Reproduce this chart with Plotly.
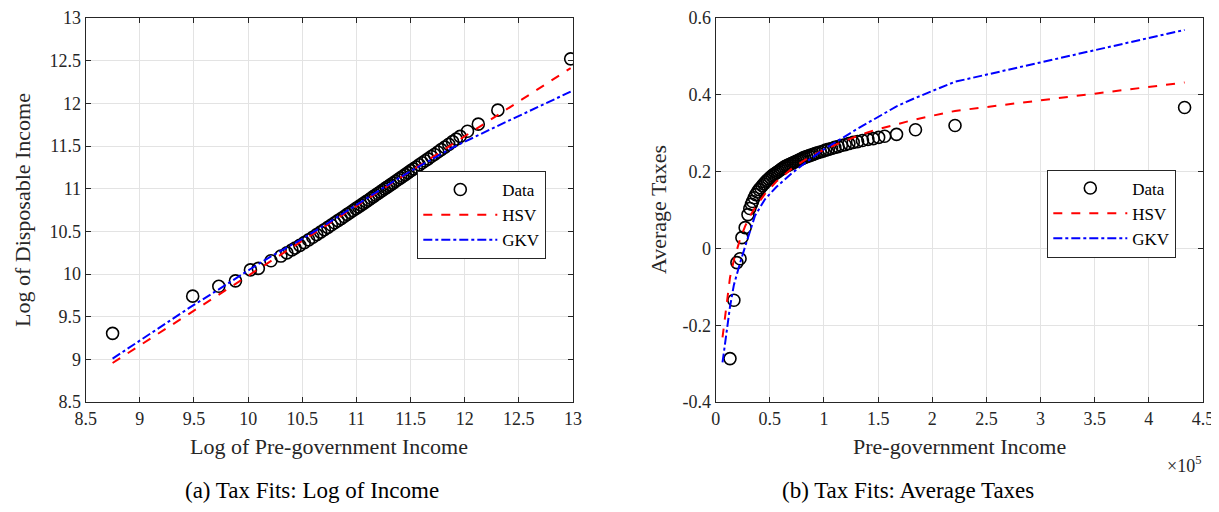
import numpy as np
import plotly.graph_objects as go

# ---- Data (pre-government income levels and average tax rates) ----
pre_income = [6300, 13200, 16800, 19600, 22500, 24200, 27200, 29800, 31500, 33000,
              34000, 35500, 37000, 38500, 40000, 41500, 43000, 44500, 46000, 47500,
              49000, 50500, 52000, 53500, 55000, 56500, 58000, 59500, 61000, 62500,
              64000, 65500, 67000, 68500, 70000, 71500, 73000, 74500, 76000, 77500,
              79000, 80500, 82000, 84000, 86000, 88000, 90000, 92000, 94000, 96500,
              99000, 101500, 104000, 107000, 110000, 113000, 116000, 119500, 123000, 127000,
              131000, 135500, 140500, 145500, 150500, 156000, 167000, 184500, 221000, 433000]
avg_tax = [-0.744, -0.287, -0.135, -0.037, -0.027, 0.028, 0.054, 0.088, 0.104, 0.115,
           0.122, 0.132, 0.140, 0.147, 0.153, 0.158, 0.163, 0.168, 0.173, 0.177,
           0.181, 0.185, 0.189, 0.192, 0.195, 0.198, 0.201, 0.204, 0.207, 0.210,
           0.213, 0.215, 0.217, 0.219, 0.221, 0.223, 0.225, 0.227, 0.229, 0.231,
           0.233, 0.235, 0.237, 0.239, 0.241, 0.243, 0.245, 0.247, 0.249, 0.251,
           0.253, 0.256, 0.258, 0.260, 0.263, 0.265, 0.268, 0.270, 0.273, 0.276,
           0.278, 0.281, 0.284, 0.286, 0.289, 0.292, 0.297, 0.309, 0.320, 0.367]

# ---- Fitted tax functions (average tax at selected incomes) ----
fit_income = [6300, 13200, 16800, 19600, 22500, 27200, 31500, 36300, 45500, 56000,
              70000, 85000, 100000, 115000, 130000, 145500, 156000, 167000, 184500, 221000, 433000]
hsv_tax = [-0.232, -0.076, -0.030, -0.002, 0.024, 0.058, 0.083, 0.106, 0.142, 0.174,
           0.207, 0.235, 0.257, 0.275, 0.292, 0.307, 0.315, 0.324, 0.336, 0.358, 0.432]
gkv_tax = [-0.297, -0.152, -0.095, -0.066, -0.038, 0.005, 0.046, 0.085, 0.128, 0.160,
           0.195, 0.228, 0.258, 0.285, 0.310, 0.335, 0.352, 0.370, 0.392, 0.434, 0.569]

# ---- Tick labels ----
left_ticks = [8.5, 9, 9.5, 10, 10.5, 11, 11.5, 12, 12.5, 13]
right_xticks = [0, 50000, 100000, 150000, 200000, 250000, 300000, 350000, 400000, 450000]
right_xtext = ["0", "0.5", "1", "1.5", "2", "2.5", "3", "3.5", "4", "4.5"]
right_yticks = [-0.4, -0.2, 0, 0.2, 0.4, 0.6]
right_ytext = ["-0.4", "-0.2", "0", "0.2", "0.4", "0.6"]

inc = np.array(pre_income, dtype=float)
tax = np.array(avg_tax)
finc = np.array(fit_income, dtype=float)
log_pre = np.log(inc)
log_disp = np.log(inc * (1 - tax))
flog_pre = np.log(finc)
hsv_log = np.log(finc * (1 - np.array(hsv_tax)))
gkv_log = np.log(finc * (1 - np.array(gkv_tax)))

# The page places the figure 8px in from the top-left corner (body margin).
OFF = 8
W, H = 1219 - OFF, 512 - OFF
FONT = "Liberation Serif"
AX = "#262626"

def px(x):
    return (x - OFF) / W

def py(y):
    return 1 - (y - OFF) / H

fig = go.Figure()
circ = dict(symbol="circle-open", size=12, color="black", line=dict(width=1.6, color="black"))

fig.add_trace(go.Scatter(x=log_pre, y=log_disp, mode="markers", marker=circ, name="Data",
                         xaxis="x", yaxis="y", legend="legend"))
fig.add_trace(go.Scatter(x=flog_pre, y=hsv_log, mode="lines", name="HSV",
                         line=dict(color="red", width=2, dash="dash"),
                         xaxis="x", yaxis="y", legend="legend"))
fig.add_trace(go.Scatter(x=flog_pre, y=gkv_log, mode="lines", name="GKV",
                         line=dict(color="blue", width=2, dash="dashdot"),
                         xaxis="x", yaxis="y", legend="legend"))

fig.add_trace(go.Scatter(x=inc, y=tax, mode="markers", marker=circ, name="Data",
                         xaxis="x2", yaxis="y2", legend="legend2"))
fig.add_trace(go.Scatter(x=finc, y=hsv_tax, mode="lines", name="HSV",
                         line=dict(color="red", width=2, dash="dash"),
                         xaxis="x2", yaxis="y2", legend="legend2"))
fig.add_trace(go.Scatter(x=finc, y=gkv_tax, mode="lines", name="GKV",
                         line=dict(color="blue", width=2, dash="dashdot"),
                         xaxis="x2", yaxis="y2", legend="legend2"))

axis_common = dict(showline=True, linecolor=AX, linewidth=1, mirror="ticks",
                   ticks="inside", ticklen=5, tickcolor=AX, tickwidth=1,
                   showgrid=True, gridcolor="#e3e3e3", gridwidth=1, zeroline=False,
                   automargin=False,
                   tickfont=dict(family=FONT, size=18, color=AX))

ydom = [py(402), py(18)]
legend_common = dict(xanchor="left", yanchor="top", bordercolor=AX, borderwidth=1,
                     bgcolor="white", font=dict(family=FONT, size=17, color="black"),
                     itemwidth=74, tracegroupgap=0)
fig.update_layout(
    width=W, height=H,
    margin=dict(l=0, r=0, t=0, b=0, autoexpand=False),
    paper_bgcolor="white", plot_bgcolor="white",
    font=dict(family=FONT, color=AX),
    xaxis=dict(domain=[px(85.7), px(573)], range=[8.5, 13], tickvals=left_ticks,
               anchor="y", **axis_common),
    yaxis=dict(domain=ydom, range=[8.5, 13], tickvals=left_ticks, anchor="x", **axis_common),
    xaxis2=dict(domain=[px(715.7), px(1203)], range=[0, 450000], tickvals=right_xticks,
                ticktext=right_xtext, anchor="y2", **axis_common),
    yaxis2=dict(domain=ydom, range=[-0.4, 0.6], tickvals=right_yticks, ticktext=right_ytext,
                anchor="x2", **axis_common),
    legend=dict(x=px(417.3), y=py(171), **legend_common),
    legend2=dict(x=px(1047.3), y=py(169.5), **legend_common),
)

ann = [
    dict(text="Log of Pre-government Income", x=px(329), y=py(446), size=22, angle=0),
    dict(text="Log of Disposable Income", x=px(22), y=py(210), size=22, angle=-90),
    dict(text="Pre-government Income", x=px(959), y=py(446), size=22, angle=0),
    dict(text="Average Taxes", x=px(658), y=py(210), size=22, angle=-90),
    dict(text="(a) Tax Fits: Log of Income", x=px(312), y=py(490), size=23, angle=0),
    dict(text="(b) Tax Fits: Average Taxes", x=px(908), y=py(490), size=23, angle=0),
]
for a in ann:
    fig.add_annotation(text=a["text"], x=a["x"], y=a["y"], xref="paper", yref="paper",
                       xanchor="center", yanchor="middle", showarrow=False, textangle=a["angle"],
                       font=dict(family=FONT, size=a["size"], color=AX if a["size"] < 23 else "black"))
fig.add_annotation(text="×10<sup>5</sup>", x=px(1203), y=py(464), xref="paper", yref="paper",
                   xanchor="right", yanchor="middle", showarrow=False,
                   font=dict(family=FONT, size=18, color=AX))

fig.write_html("out.html")
